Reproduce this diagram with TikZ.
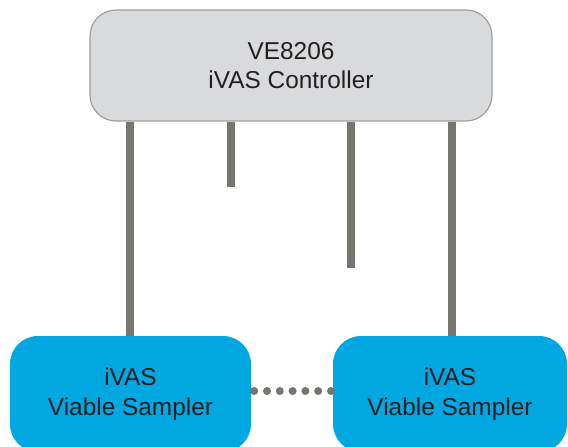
\documentclass[tikz,border=0pt]{standalone}
\usepackage{fontspec}
\setmainfont{Liberation Sans}
\definecolor{ctrlfill}{HTML}{D9DADC}
\definecolor{ctrldraw}{HTML}{9E9FA1}
\definecolor{sampfill}{HTML}{00A7E1}
\definecolor{linkgray}{HTML}{76756F}
\definecolor{txt}{HTML}{231F20}
\tikzset{
  ctrlbox/.style={draw=ctrldraw, line width=1.2bp, fill=ctrlfill, rounded corners=26bp,
    minimum width=402bp, minimum height=111bp, align=center, text=txt,
    font=\fontsize{24.5}{29.5}\selectfont, inner sep=0pt},
  sampbox/.style={fill=sampfill, rounded corners=28bp, align=center, text=txt,
    minimum height=116bp, inner sep=0pt, font=\fontsize{24.5}{30}\selectfont},
  link/.style={draw=linkgray, line width=8bp},
  dots/.style={draw=linkgray, line width=8bp, line cap=round, dash pattern=on 0bp off 12.8bp}
}
\begin{document}
\begin{tikzpicture}[x=1bp, y=-1bp]
\clip (0,0) rectangle (568,447);
\fill[white] (0,0) rectangle (568,447);
\node[ctrlbox] (ctrl) at (291,65.5) {VE8206\\iVAS Controller};
\node[sampbox, minimum width=241bp] (left) at (130.5,394) {iVAS\\Viable Sampler};
\node[sampbox, minimum width=234bp] (right) at (450,394) {iVAS\\Viable Sampler};
\coordinate (s2) at (231,187);
\coordinate (s3) at (351,268);
\draw[link] (ctrl.south -| 130,0) -- (left.north -| 130,0);
\draw[link] (ctrl.south -| s2) -- (s2);
\draw[link] (ctrl.south -| s3) -- (s3);
\draw[link] (ctrl.south -| 452,0) -- (right.north -| 452,0);
\draw[dots] ([xshift=3bp]left.east |- 0,391) -- (right.west |- 0,391);
\end{tikzpicture}
\end{document}
